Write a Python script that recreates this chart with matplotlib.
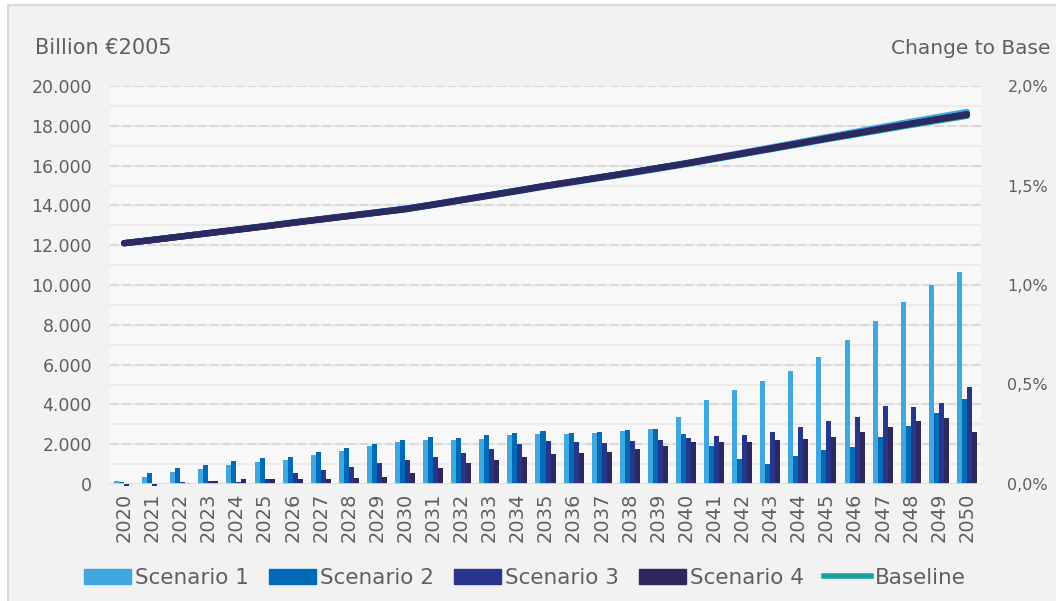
import numpy as np
import matplotlib.pyplot as plt
from matplotlib.patches import Rectangle, Patch
from matplotlib.lines import Line2D

years = list(range(2020, 2051))

# GDP level of the baseline, billion EUR (2005 prices)
baseline = [12100, 12260, 12430, 12600, 12770, 12940, 13120, 13290, 13460, 13630,
            13800, 14020, 14250, 14480, 14710, 14950, 15170, 15390, 15610, 15840,
            16070, 16320, 16570, 16820, 17070, 17320, 17560, 17800, 18040, 18270,
            18500]

# change to baseline, in %
scen1 = [0.017, 0.037, 0.062, 0.077, 0.094, 0.112, 0.122, 0.144, 0.166, 0.189,
         0.211, 0.221, 0.221, 0.228, 0.245, 0.251, 0.251, 0.256, 0.266, 0.278,
         0.338, 0.422, 0.472, 0.518, 0.568, 0.640, 0.724, 0.819, 0.915, 0.998,
         1.065]
scen2 = [0.008, 0.055, 0.082, 0.094, 0.117, 0.132, 0.137, 0.162, 0.183, 0.199,
         0.221, 0.238, 0.233, 0.245, 0.256, 0.266, 0.256, 0.261, 0.273, 0.278,
         0.250, 0.193, 0.124, 0.102, 0.142, 0.169, 0.188, 0.238, 0.293, 0.355,
         0.429]
scen3 = [-0.01, -0.01, 0.012, 0.017, 0.012, 0.027, 0.055, 0.070, 0.087, 0.105,
         0.121, 0.137, 0.156, 0.176, 0.199, 0.216, 0.211, 0.206, 0.216, 0.223,
         0.231, 0.243, 0.248, 0.260, 0.288, 0.315, 0.338, 0.394, 0.389, 0.405,
         0.489]
scen4 = [0.0, 0.0, 0.005, 0.015, 0.027, 0.027, 0.027, 0.027, 0.032, 0.037,
         0.054, 0.080, 0.104, 0.121, 0.137, 0.149, 0.156, 0.162, 0.176, 0.189,
         0.209, 0.209, 0.209, 0.219, 0.226, 0.236, 0.260, 0.288, 0.315, 0.332,
         0.260]

names = ['Scenario 1', 'Scenario 2', 'Scenario 3', 'Scenario 4']
colors = ['#41a8df', '#006cb7', '#27358a', '#2d295f']
base_color = '#17a3a1'
txt = '#5f5f5f'

W, H = 1056, 601
fig = plt.figure(figsize=(W / 100, H / 100), dpi=100, facecolor='white')
fig.patches.append(Rectangle((8 / W, -0.01), 1, 1 - 5 / H + 0.01, transform=fig.transFigure,
                             fc='#f2f2f2', ec='#d9d9d9', lw=1.5, zorder=-10))

axb = fig.add_axes([110 / W, 117 / H, 871 / W, 398 / H])
axb.set_facecolor('#f8f8f8')
axl = axb.twinx()
axl.patch.set_visible(False)

x = np.arange(len(years))
w = 0.178
for k, (vals, c) in enumerate(zip([scen1, scen2, scen3, scen4], colors)):
    axb.bar(x + (k - 1.5) * w, vals, width=w, color=c, clip_on=False, zorder=3)

# gridlines: light solid every 0.1 %, dashed every 2.000 bn (0.2 %)
for p in np.arange(0.1, 2.01, 0.1):
    axb.axhline(p, color='#ebebeb', lw=1.5, zorder=1)
for v in range(2000, 20001, 2000):
    axb.axhline(v / 10000, color='#d9d9d9', lw=1.5, ls=(0, (4, 2)), zorder=1)
axb.axhline(0, color='#d9d9d9', lw=2, zorder=4)

axb.set_xlim(-0.5, len(years) - 0.5)
axb.set_ylim(0, 2.0)
axl.set_ylim(0, 20000)

# levels of each scenario from the baseline and its % change
base = np.array(baseline)
axl.plot(x, base, color=base_color, lw=4.5, solid_capstyle='round')
for vals, c in zip([scen1, scen2, scen3, scen4], colors):
    axl.plot(x, base * (1 + np.array(vals) / 100), color=c, lw=4.5, solid_capstyle='round')

for a in (axb, axl):
    for s in a.spines.values():
        s.set_visible(False)

axb.set_xticks(x)
axb.set_xticklabels([str(y) for y in years], rotation=90, fontsize=14, color=txt)
axb.tick_params(axis='x', length=0, pad=6)

axb.yaxis.set_ticks_position('right')
axb.set_yticks([0, 0.5, 1.0, 1.5, 2.0])
axb.set_yticklabels([f"{p:.1f}%".replace('.', ',') for p in [0, 0.5, 1.0, 1.5, 2.0]],
                    fontsize=11.5, color=txt)
axb.tick_params(axis='y', length=0, pad=19)

axl.yaxis.set_ticks_position('left')
lt = list(range(0, 20001, 2000))
axl.set_yticks(lt)
axl.set_yticklabels([f"{v:,}".replace(',', '.') for v in lt], fontsize=12.5, color=txt)
axl.tick_params(axis='y', length=0, pad=13)

fig.text(35 / W, 1 - 48 / H, 'Billion €2005', fontsize=15, color=txt, va='center')
fig.text(891 / W, 1 - 48 / H, 'Change to Base', fontsize=14.5, color=txt, va='center')

handles = [Patch(color=c) for c in colors] + [Line2D([], [], color=base_color, lw=4)]
fig.legend(handles, names + ['Baseline'], loc='center', bbox_to_anchor=(525 / W, 1 - 578 / H),
           ncol=5, frameon=False, fontsize=15.5, labelcolor=txt, handlelength=2.2,
           handleheight=0.7, handletextpad=0.2, columnspacing=0.9)

fig.savefig('out.png', dpi=100, facecolor=fig.get_facecolor())
